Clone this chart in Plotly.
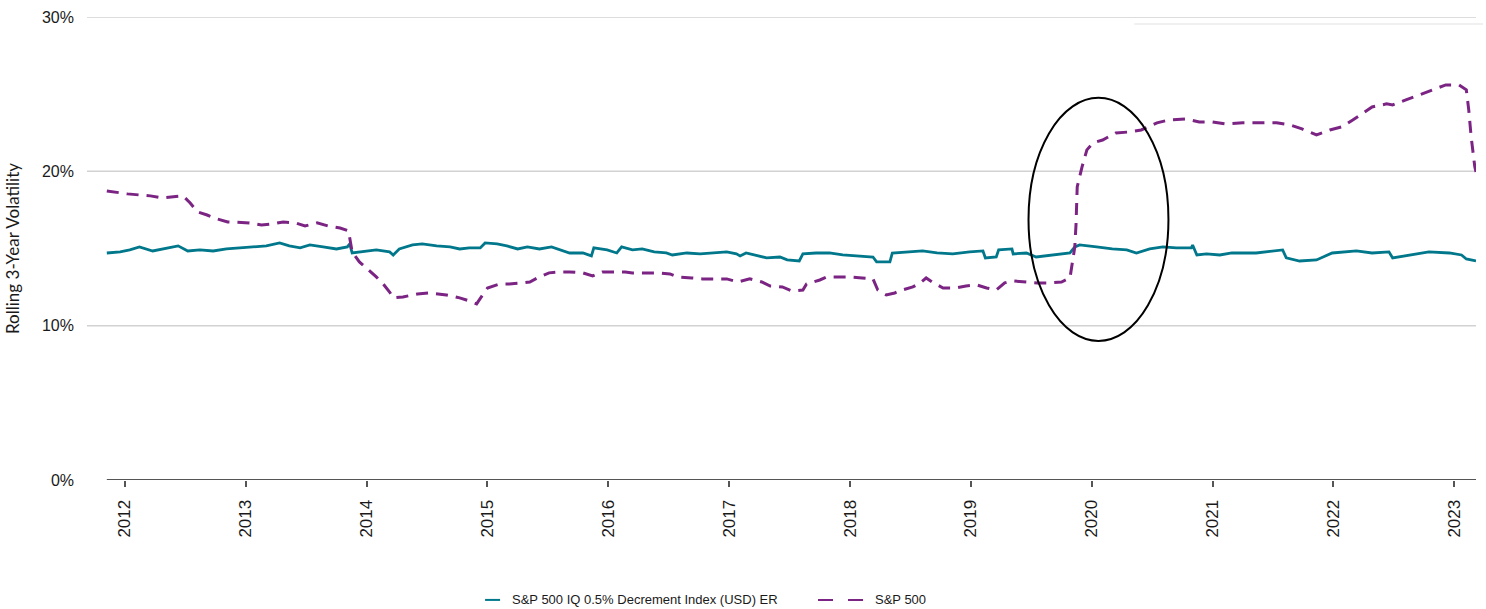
import plotly.graph_objects as go

# ---- data (decimal years, volatility in %) ----
spx_t = [2011.85, 2011.96, 2012.02, 2012.12, 2012.21, 2012.31, 2012.39, 2012.48, 2012.54, 2012.60,
         2012.68, 2012.76, 2012.85, 2012.95, 2013.03, 2013.13, 2013.22, 2013.31, 2013.41, 2013.49,
         2013.59, 2013.68, 2013.78, 2013.85, 2013.88, 2013.94, 2014.00, 2014.08, 2014.13, 2014.19,
         2014.22, 2014.30, 2014.42, 2014.52, 2014.66, 2014.77, 2014.85, 2014.91, 2014.96, 2015.00,
         2015.10, 2015.18, 2015.29, 2015.35, 2015.43, 2015.51, 2015.60, 2015.68, 2015.79, 2015.87,
         2015.95, 2016.04, 2016.14, 2016.20, 2016.32, 2016.41, 2016.51, 2016.57, 2016.69, 2016.78,
         2016.88, 2016.98, 2017.07, 2017.17, 2017.27, 2017.34, 2017.44, 2017.52, 2017.61, 2017.64,
         2017.75, 2017.81, 2017.91, 2018.00, 2018.10, 2018.19, 2018.23, 2018.30, 2018.37, 2018.43,
         2018.52, 2018.58, 2018.63, 2018.68, 2018.77, 2018.87, 2018.96, 2019.05, 2019.13, 2019.21,
         2019.28, 2019.34, 2019.46, 2019.55, 2019.65, 2019.75, 2019.82, 2019.84, 2019.86, 2019.87,
         2019.88, 2019.92, 2019.96, 2020.01, 2020.09, 2020.20, 2020.31, 2020.41, 2020.54, 2020.64,
         2020.78, 2020.89, 2021.00, 2021.11, 2021.25, 2021.39, 2021.53, 2021.64, 2021.74, 2021.82,
         2021.86, 2021.97, 2022.07, 2022.16, 2022.24, 2022.32, 2022.44, 2022.49, 2022.60, 2022.71,
         2022.82, 2022.93, 2023.04, 2023.10, 2023.12, 2023.14, 2023.17, 2023.18]
spx_v = [18.73, 18.60, 18.54, 18.47, 18.41, 18.28, 18.34, 18.41, 17.95, 17.37,
         17.17, 16.92, 16.72, 16.66, 16.66, 16.53, 16.59, 16.72, 16.66, 16.46,
         16.66, 16.46, 16.33, 16.14, 14.78, 14.13, 13.74, 13.16, 12.77, 12.18,
         11.80, 11.86, 12.05, 12.12, 11.99, 11.80, 11.60, 11.41, 11.99, 12.44,
         12.70, 12.70, 12.77, 12.83, 13.16, 13.42, 13.48, 13.48, 13.42, 13.22,
         13.48, 13.48, 13.48, 13.42, 13.42, 13.42, 13.35, 13.16, 13.09, 13.03,
         13.03, 13.03, 12.83, 13.03, 12.83, 12.57, 12.51, 12.25, 12.31, 12.70,
         12.96, 13.16, 13.16, 13.16, 13.09, 13.03, 12.31, 11.99, 12.12, 12.31,
         12.51, 12.77, 13.09, 12.83, 12.44, 12.44, 12.57, 12.64, 12.44, 12.31,
         12.77, 12.90, 12.83, 12.77, 12.77, 12.83, 13.09, 14.06, 15.10, 16.53,
         18.99, 20.29, 21.39, 21.84, 22.03, 22.49, 22.55, 22.68, 23.14, 23.33,
         23.40, 23.20, 23.20, 23.07, 23.14, 23.14, 23.14, 23.01, 22.75, 22.49,
         22.36, 22.68, 22.88, 23.33, 23.78, 24.17, 24.37, 24.30, 24.63, 24.95,
         25.28, 25.60, 25.60, 25.28, 23.98, 22.23, 20.29, 19.96]

iq_t = [2011.85, 2011.96, 2012.04, 2012.12, 2012.23, 2012.35, 2012.44, 2012.52, 2012.62, 2012.73,
        2012.84, 2012.95, 2013.06, 2013.17, 2013.28, 2013.36, 2013.45, 2013.53, 2013.64, 2013.75,
        2013.84, 2013.86, 2013.88, 2013.97, 2014.08, 2014.19, 2014.22, 2014.27, 2014.38, 2014.46,
        2014.58, 2014.69, 2014.77, 2014.85, 2014.94, 2014.98, 2015.08, 2015.16, 2015.25, 2015.33,
        2015.43, 2015.53, 2015.62, 2015.68, 2015.79, 2015.86, 2015.88, 2015.99, 2016.07, 2016.11,
        2016.20, 2016.28, 2016.38, 2016.48, 2016.53, 2016.65, 2016.76, 2016.86, 2016.98, 2017.06,
        2017.09, 2017.14, 2017.25, 2017.31, 2017.42, 2017.48, 2017.58, 2017.61, 2017.72, 2017.83,
        2017.94, 2018.05, 2018.19, 2018.22, 2018.33, 2018.35, 2018.47, 2018.60, 2018.72, 2018.85,
        2018.99, 2019.10, 2019.12, 2019.21, 2019.23, 2019.34, 2019.35, 2019.46, 2019.54, 2019.68,
        2019.82, 2019.86, 2019.90, 2020.04, 2020.17, 2020.29, 2020.37, 2020.48, 2020.59, 2020.70,
        2020.825, 2020.835, 2020.87, 2020.95, 2021.06, 2021.16, 2021.36, 2021.58, 2021.61, 2021.72,
        2021.86, 2021.99, 2022.19, 2022.32, 2022.46, 2022.49, 2022.63, 2022.79, 2022.96, 2023.06,
        2023.10, 2023.18]
iq_v = [14.71, 14.78, 14.91, 15.10, 14.84, 15.04, 15.17, 14.84, 14.91, 14.84,
        14.97, 15.04, 15.10, 15.17, 15.36, 15.17, 15.04, 15.23, 15.10, 14.97,
        15.10, 15.30, 14.71, 14.78, 14.91, 14.78, 14.58, 14.97, 15.23, 15.30,
        15.17, 15.10, 14.97, 15.04, 15.04, 15.36, 15.30, 15.17, 14.97, 15.10,
        14.97, 15.10, 14.84, 14.71, 14.71, 14.52, 15.04, 14.91, 14.71, 15.10,
        14.91, 14.97, 14.78, 14.71, 14.58, 14.71, 14.65, 14.71, 14.78, 14.65,
        14.52, 14.71, 14.52, 14.39, 14.45, 14.26, 14.19, 14.65, 14.71, 14.71,
        14.58, 14.52, 14.45, 14.13, 14.13, 14.71, 14.78, 14.84, 14.71, 14.65,
        14.78, 14.84, 14.39, 14.45, 14.91, 14.97, 14.65, 14.71, 14.45, 14.58,
        14.71, 15.10, 15.23, 15.10, 14.97, 14.91, 14.71, 14.97, 15.10, 15.04,
        15.04, 15.23, 14.58, 14.65, 14.58, 14.71, 14.71, 14.91, 14.39, 14.19,
        14.26, 14.71, 14.84, 14.71, 14.78, 14.39, 14.58, 14.78, 14.71, 14.58,
        14.32, 14.19]

year_ticks = [2012, 2013, 2014, 2015, 2016, 2017, 2018, 2019, 2020, 2021, 2022, 2023]
year_labels = [str(y) for y in year_ticks]
y_ticks = [0, 10, 20, 30]
y_labels = ["0%", "10%", "20%", "30%"]

name_iq = "S&P 500 IQ 0.5% Decrement Index (USD) ER"
name_spx = "S&P 500"

TEAL = "#00778B"
PURPLE = "#7B2483"
FONT = "Liberation Sans, Arial, sans-serif"

fig = go.Figure()
fig.add_trace(go.Scatter(x=iq_t, y=iq_v, mode="lines", name=name_iq, showlegend=False,
                         line=dict(color=TEAL, width=2.8)))
fig.add_trace(go.Scatter(x=spx_t, y=spx_v, mode="lines", name=name_spx, showlegend=False,
                         line=dict(color=PURPLE, width=3, dash="12px,8px")))

shapes = []
for yv in [10, 20, 30]:
    shapes.append(dict(type="line", xref="paper", yref="y", x0=0, x1=1, y0=yv, y1=yv,
                       line=dict(color="#d2d2d2", width=1.5), layer="below"))
# x axis baseline (starts at first observation)
shapes.append(dict(type="line", xref="x", yref="y", x0=spx_t[0], x1=spx_t[-1], y0=0, y1=0,
                   line=dict(color="#555555", width=2)))
# highlight ellipse
shapes.append(dict(type="circle", xref="x", yref="y", x0=2019.477, x1=2020.635, y0=9.01, y1=24.76,
                   line=dict(color="black", width=2)))
# faint line top-right
shapes.append(dict(type="line", xref="paper", yref="paper", x0=0.754, x1=1.005, y0=0.985, y1=0.985,
                   line=dict(color="#f0f0f0", width=2)))

# custom legend (below the plot)
LEG_Y = -0.259
shapes.append(dict(type="line", xref="paper", yref="paper", x0=0.2866, x1=0.2974, y0=LEG_Y, y1=LEG_Y,
                   line=dict(color=TEAL, width=2)))
shapes.append(dict(type="line", xref="paper", yref="paper", x0=0.5263, x1=0.5587, y0=LEG_Y, y1=LEG_Y,
                   line=dict(color=PURPLE, width=2, dash="15px,15px")))
annotations = [
    dict(text=name_iq, xref="paper", yref="paper", x=0.3045, y=LEG_Y, xanchor="left", yanchor="middle",
         showarrow=False, font=dict(size=13, family=FONT, color="#1a1a1a")),
    dict(text=name_spx, xref="paper", yref="paper", x=0.5659, y=LEG_Y, xanchor="left", yanchor="middle",
         showarrow=False, font=dict(size=13, family=FONT, color="#1a1a1a")),
]

fig.update_layout(
    width=1486, height=609,
    margin=dict(l=87, r=10, t=17, b=129),
    paper_bgcolor="white", plot_bgcolor="white",
    font=dict(family=FONT, size=15, color="#1a1a1a"),
    showlegend=False,
    shapes=shapes,
    annotations=annotations,
)
fig.update_xaxes(range=[2011.686, 2023.18], tickvals=year_ticks, ticktext=year_labels,
                 tickangle=-90, ticks="outside", ticklen=6, tickcolor="#555555", tickwidth=2,
                 showgrid=False, zeroline=False, showline=False, automargin=False,
                 ticklabelstandoff=6, tickfont=dict(size=17, family=FONT, color="#1a1a1a"))
fig.update_yaxes(range=[0, 30], tickvals=y_ticks, ticktext=y_labels,
                 showgrid=False, zeroline=False, showline=False, ticks="", automargin=False,
                 ticklabelstandoff=12, tickfont=dict(size=16, family=FONT, color="#1a1a1a"),
                 title=dict(text="Rolling 3-Year Volatility", font=dict(size=17, family="Lato, sans-serif"),
                            standoff=18))

fig.write_html("out.html", config={"displayModeBar": False},
               post_script="document.body.style.margin='0px';")
